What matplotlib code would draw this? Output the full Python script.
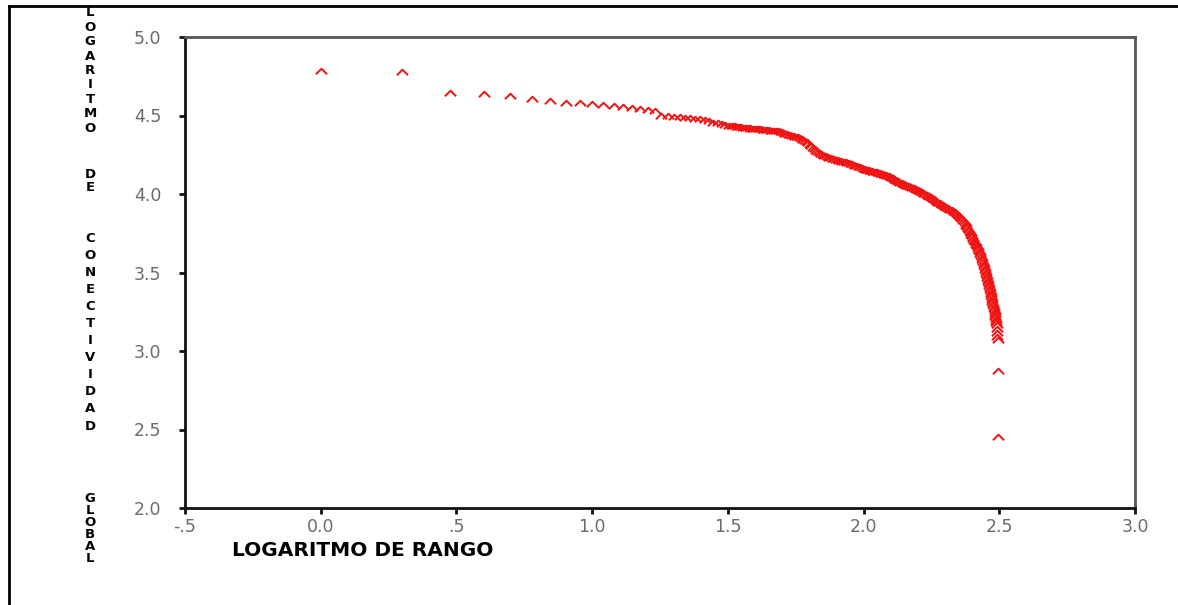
import matplotlib
matplotlib.use("Agg")
import matplotlib.pyplot as plt
from matplotlib.path import Path
from matplotlib.lines import Line2D
from matplotlib.ticker import FixedLocator, FixedFormatter

# log rank (x) vs log global connectivity (y)
log_rango = [
    0.000, 0.301, 0.477, 0.602, 0.699, 0.778, 0.845, 0.903, 0.954, 1.000,
    1.041, 1.079, 1.114, 1.146, 1.176, 1.204, 1.230, 1.255, 1.279, 1.301,
    1.322, 1.342, 1.362, 1.380, 1.398, 1.415, 1.431, 1.447, 1.462, 1.477,
    1.491, 1.505,
    1.514, 1.520, 1.526, 1.532, 1.538, 1.544, 1.550, 1.556, 1.562, 1.568,
    1.574, 1.580, 1.586, 1.592, 1.598, 1.604, 1.610, 1.616, 1.622, 1.628,
    1.634, 1.640, 1.646, 1.652, 1.658, 1.664, 1.670, 1.676, 1.682, 1.688,
    1.694, 1.700, 1.706, 1.712, 1.718, 1.724, 1.730, 1.736, 1.742, 1.748,
    1.754, 1.760, 1.766, 1.772, 1.778, 1.784, 1.790, 1.796, 1.802, 1.808,
    1.814, 1.820, 1.826, 1.832, 1.838, 1.844, 1.850, 1.856, 1.862, 1.868,
    1.874, 1.880, 1.886, 1.892, 1.898, 1.904, 1.910, 1.916, 1.922, 1.928,
    1.934, 1.940, 1.946, 1.952, 1.958, 1.964, 1.970, 1.976, 1.982, 1.988,
    1.994, 2.000,
    2.004, 2.008, 2.012, 2.016, 2.020, 2.024, 2.028, 2.032, 2.036, 2.040,
    2.044, 2.048, 2.052, 2.056, 2.060, 2.064, 2.068, 2.072, 2.076, 2.080,
    2.084, 2.088, 2.092, 2.096, 2.100, 2.104, 2.108, 2.112, 2.116, 2.120,
    2.124, 2.128, 2.132, 2.136, 2.140, 2.144, 2.148, 2.152, 2.156, 2.160,
    2.164, 2.168, 2.172, 2.176, 2.180, 2.184, 2.188, 2.192, 2.196, 2.200,
    2.204, 2.208, 2.212, 2.216, 2.220, 2.224, 2.228, 2.232, 2.236, 2.240,
    2.244, 2.248, 2.252, 2.256, 2.260, 2.264, 2.268, 2.272, 2.276, 2.280,
    2.284, 2.288, 2.292, 2.296, 2.300, 2.304, 2.308, 2.312, 2.316, 2.320,
    2.324, 2.328, 2.332, 2.336, 2.340, 2.344, 2.348, 2.352, 2.356, 2.360,
    2.364, 2.368, 2.372, 2.376,
    2.379, 2.382, 2.385, 2.388, 2.391, 2.394, 2.397, 2.400, 2.403, 2.405,
    2.408, 2.410, 2.413, 2.415, 2.418, 2.420, 2.423, 2.425, 2.428, 2.430,
    2.433, 2.435, 2.438, 2.440, 2.442, 2.444, 2.446, 2.448, 2.450, 2.452,
    2.454, 2.456, 2.458, 2.460, 2.462, 2.463, 2.465, 2.466, 2.468, 2.469,
    2.471, 2.472, 2.474, 2.475, 2.477, 2.478, 2.480, 2.481, 2.483, 2.484,
    2.485, 2.486, 2.487, 2.488, 2.489, 2.490, 2.491, 2.492, 2.493, 2.494,
    2.496, 2.497,
]
log_conect = [
    4.785, 4.775, 4.645, 4.640, 4.625, 4.605, 4.590, 4.580, 4.578, 4.572,
    4.566, 4.560, 4.553, 4.548, 4.543, 4.538, 4.530, 4.500, 4.495, 4.492,
    4.488, 4.485, 4.482, 4.480, 4.478, 4.470, 4.462, 4.455, 4.450, 4.445,
    4.440, 4.436,
    4.434, 4.432, 4.430, 4.428, 4.427, 4.425, 4.424, 4.422, 4.421, 4.420,
    4.419, 4.418, 4.417, 4.416, 4.415, 4.414, 4.413, 4.412, 4.411, 4.410,
    4.409, 4.408, 4.406, 4.405, 4.404, 4.403, 4.402, 4.402, 4.401, 4.400,
    4.396, 4.392, 4.388, 4.385, 4.381, 4.378, 4.375, 4.372, 4.368, 4.365,
    4.362, 4.360, 4.356, 4.352, 4.346, 4.340, 4.333, 4.325, 4.315, 4.305,
    4.295, 4.285, 4.275, 4.265, 4.260, 4.255, 4.250, 4.245, 4.240, 4.235,
    4.231, 4.228, 4.225, 4.222, 4.219, 4.216, 4.213, 4.210, 4.207, 4.204,
    4.201, 4.198, 4.195, 4.192, 4.188, 4.185, 4.181, 4.178, 4.174, 4.170,
    4.166, 4.162,
    4.159, 4.156, 4.154, 4.152, 4.150, 4.148, 4.147, 4.145, 4.143, 4.142,
    4.140, 4.138, 4.136, 4.134, 4.132, 4.130, 4.128, 4.126, 4.123, 4.120,
    4.118, 4.115, 4.112, 4.110, 4.107, 4.104, 4.100, 4.096, 4.092, 4.088,
    4.084, 4.080, 4.076, 4.072, 4.069, 4.066, 4.063, 4.060, 4.057, 4.054,
    4.051, 4.048, 4.045, 4.042, 4.039, 4.036, 4.033, 4.030, 4.027, 4.024,
    4.021, 4.018, 4.014, 4.010, 4.006, 4.002, 3.998, 3.994, 3.990, 3.986,
    3.982, 3.978, 3.974, 3.970, 3.965, 3.960, 3.955, 3.950, 3.945, 3.940,
    3.936, 3.932, 3.928, 3.924, 3.920, 3.916, 3.912, 3.908, 3.904, 3.900,
    3.896, 3.892, 3.888, 3.884, 3.879, 3.874, 3.868, 3.862, 3.855, 3.848,
    3.840, 3.830, 3.820, 3.808,
    3.799, 3.790, 3.780, 3.770, 3.760, 3.750, 3.740, 3.730, 3.721, 3.712,
    3.703, 3.695, 3.686, 3.678, 3.669, 3.660, 3.650, 3.640, 3.628, 3.615,
    3.602, 3.590, 3.578, 3.565, 3.552, 3.540, 3.528, 3.515, 3.502, 3.490,
    3.478, 3.465, 3.452, 3.440, 3.428, 3.415, 3.402, 3.390, 3.378, 3.365,
    3.352, 3.340, 3.328, 3.315, 3.302, 3.290, 3.278, 3.265, 3.252, 3.240,
    3.228, 3.215, 3.202, 3.190, 3.178, 3.165, 3.140, 3.115, 3.090, 3.070,
    2.875, 2.455,
]

x_ticks = [-0.5, 0.0, 0.5, 1.0, 1.5, 2.0, 2.5, 3.0]
x_tick_labels = ['-.5', '0.0', '.5', '1.0', '1.5', '2.0', '2.5', '3.0']
y_ticks = [2.0, 2.5, 3.0, 3.5, 4.0, 4.5, 5.0]
y_tick_labels = ['2.0', '2.5', '3.0', '3.5', '4.0', '4.5', '5.0']

# stacked y-label words: (word, top px, bottom px)
y_words = [('LOGARITMO', 13, 128), ('DE', 174, 188),
           ('CONECTIVIDAD', 238, 426), ('GLOBAL', 498, 558)]

W, H = 1178, 605
fig = plt.figure(figsize=(W / 100, H / 100), dpi=100)
ax = fig.add_axes([185 / W, 1 - 508 / H, 950 / W, 471 / H])

chevron = Path([(-1, -0.5), (0, 0.5), (1, -0.5)],
               [Path.MOVETO, Path.LINETO, Path.LINETO])
ax.plot(log_rango, log_conect, linestyle='none', marker=chevron,
        markersize=8, markerfacecolor='none', markeredgecolor='#f01515',
        markeredgewidth=1.45)

ax.set_xlim(-0.5, 3.0)
ax.set_ylim(2.0, 5.0)
ax.xaxis.set_major_locator(FixedLocator(x_ticks))
ax.xaxis.set_major_formatter(FixedFormatter(x_tick_labels))
ax.yaxis.set_major_locator(FixedLocator(y_ticks))
ax.yaxis.set_major_formatter(FixedFormatter(y_tick_labels))

for side in ['left', 'bottom']:
    ax.spines[side].set_linewidth(2)
    ax.spines[side].set_color('#111111')
for side in ['top', 'right']:
    ax.spines[side].set_linewidth(2)
    ax.spines[side].set_color('#555555')

ax.tick_params(direction='out', length=4, width=2, color='#111111',
               labelcolor='#6a6a6a', labelsize=12.5)
ax.tick_params(axis='y', pad=13)
ax.tick_params(axis='x', pad=3)

fig.text(232 / W, 1 - 551 / H, 'LOGARITMO DE RANGO', ha='left', va='center',
         fontsize=14.5, fontweight='bold', family=['DejaVu Sans'])

for word, top, bottom in y_words:
    n = len(word)
    step = (bottom - top) / (n - 1) if n > 1 else 0
    for i, ch in enumerate(word):
        fig.text(90 / W, 1 - (top + i * step) / H, ch, ha='center',
                 va='center', fontsize=9.5, fontweight='bold',
                 family=['DejaVu Sans'])

# outer frame (top and left edges)
fig.add_artist(Line2D([9 / W, 1], [1 - 6 / H, 1 - 6 / H], color='black',
                      linewidth=2, transform=fig.transFigure))
fig.add_artist(Line2D([9 / W, 9 / W], [0, 1 - 6 / H], color='black',
                      linewidth=2, transform=fig.transFigure))

plt.savefig('out.png', dpi=100, facecolor='w')
